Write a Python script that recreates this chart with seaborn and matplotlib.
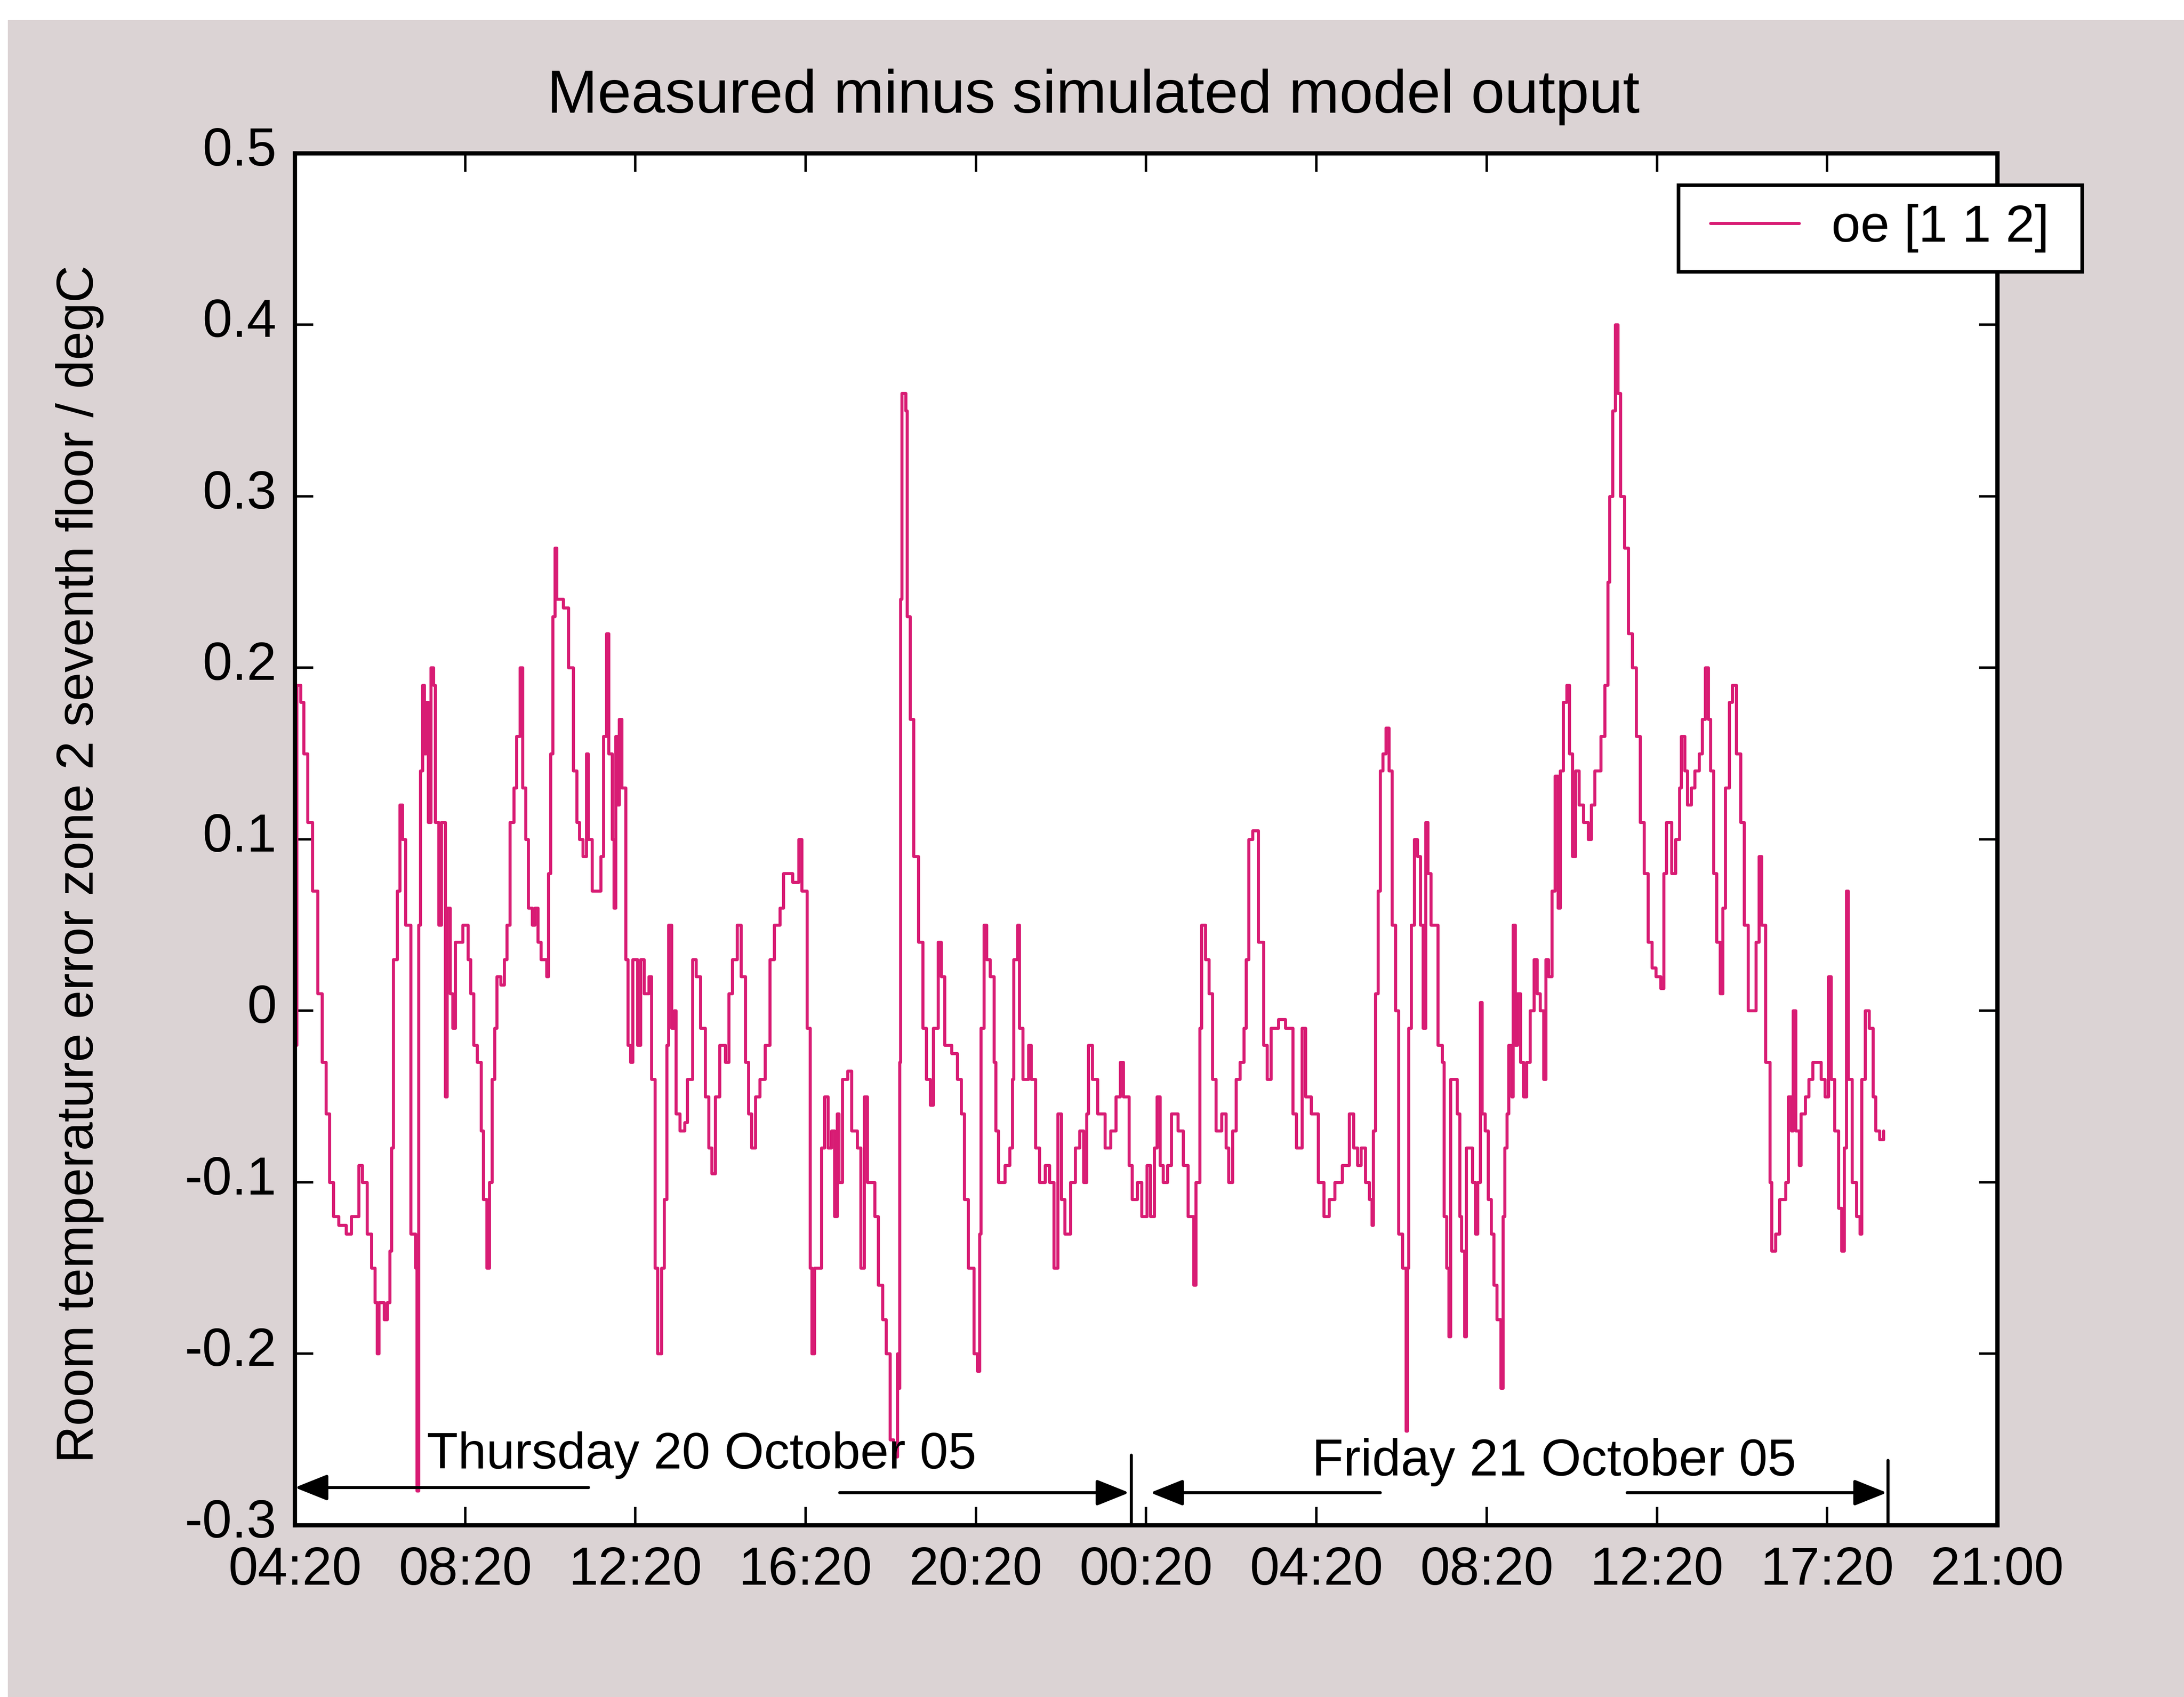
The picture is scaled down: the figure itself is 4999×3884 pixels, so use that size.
import matplotlib
matplotlib.use("Agg")
import matplotlib.pyplot as plt
from matplotlib.patches import Rectangle
from matplotlib.transforms import ScaledTranslation
import seaborn as sns
import pandas as pd

# ---------------- data (hours since Thursday 04:20, error in degC) ----------------
hours = [
    0.00, 0.02, 0.04, 0.13, 0.21, 0.30, 0.41, 0.54, 0.64, 0.73, 0.81, 0.90, 1.03, 1.20, 1.33,
    1.50, 1.58, 1.69, 1.80, 1.88, 1.93, 1.97, 2.10, 2.17, 2.23, 2.27, 2.31, 2.36, 2.40, 2.46,
    2.53, 2.60, 2.72, 2.83, 2.87, 2.91, 2.95, 3.00, 3.04, 3.08, 3.13, 3.19, 3.25, 3.30, 3.38,
    3.44, 3.53, 3.57, 3.64, 3.71, 3.77, 3.94, 4.07, 4.13, 4.20, 4.28, 4.37, 4.43, 4.51, 4.57,
    4.63, 4.69, 4.74, 4.84, 4.92, 4.98, 5.05, 5.14, 5.21, 5.29, 5.35, 5.42, 5.48, 5.57, 5.64,
    5.71, 5.78, 5.91, 5.95, 6.01, 6.06, 6.11, 6.15, 6.30, 6.43, 6.54, 6.62, 6.68, 6.77, 6.85,
    6.89, 6.98, 7.11, 7.19, 7.25, 7.32, 7.37, 7.45, 7.49, 7.54, 7.58, 7.62, 7.68, 7.77, 7.82,
    7.88, 7.94, 8.05, 8.12, 8.20, 8.31, 8.38, 8.46, 8.52, 8.61, 8.67, 8.74, 8.78, 8.85, 8.91,
    8.95, 9.04, 9.16, 9.22, 9.34, 9.42, 9.53, 9.64, 9.72, 9.79, 9.88, 9.98, 10.11, 10.19, 10.28,
    10.39, 10.48, 10.58, 10.66, 10.73, 10.82, 10.92, 11.05, 11.16, 11.26, 11.39, 11.48, 11.69, 11.84, 11.91,
    12.03, 12.10, 12.14, 12.20, 12.29, 12.37, 12.44, 12.52, 12.61, 12.68, 12.74, 12.78, 12.86, 12.99, 13.08,
    13.21, 13.29, 13.38, 13.45, 13.53, 13.62, 13.70, 13.81, 13.89, 13.98, 14.06, 14.15, 14.19, 14.21, 14.23,
    14.26, 14.35, 14.38, 14.45, 14.53, 14.65, 14.75, 14.83, 14.92, 15.00, 15.11, 15.18, 15.26, 15.43, 15.56,
    15.65, 15.73, 15.82, 15.95, 16.03, 16.08, 16.12, 16.19, 16.25, 16.33, 16.42, 16.46, 16.53, 16.68, 16.79,
    16.85, 16.89, 16.98, 17.02, 17.10, 17.23, 17.30, 17.40, 17.49, 17.62, 17.73, 17.83, 17.92, 18.00, 18.09,
    18.22, 18.33, 18.43, 18.53, 18.60, 18.64, 18.73, 18.86, 19.03, 19.16, 19.29, 19.39, 19.46, 19.59, 19.67,
    19.79, 19.89, 20.02, 20.10, 20.19, 20.25, 20.32, 20.40, 20.50, 20.59, 20.74, 20.87, 20.98, 21.11, 21.17,
    21.26, 21.30, 21.39, 21.47, 21.56, 21.64, 21.77, 21.87, 21.94, 22.03, 22.11, 22.20, 22.29, 22.35, 22.41,
    22.50, 22.63, 22.76, 22.84, 22.93, 23.10, 23.27, 23.44, 23.53, 23.66, 23.74, 23.87, 24.04, 24.17, 24.30,
    24.43, 24.60, 24.77, 24.87, 24.96, 25.05, 25.15, 25.24, 25.30, 25.33, 25.38, 25.45, 25.50, 25.56, 25.63,
    25.70, 25.77, 25.86, 25.93, 26.02, 26.10, 26.13, 26.16, 26.23, 26.30, 26.37, 26.44, 26.50, 26.56, 26.62,
    26.69, 26.76, 26.85, 26.95, 26.99, 27.06, 27.11, 27.15, 27.24, 27.30, 27.36, 27.41, 27.48, 27.52, 27.59,
    27.66, 27.73, 27.79, 27.85, 27.89, 27.96, 28.03, 28.10, 28.16, 28.24, 28.33, 28.38, 28.42, 28.47, 28.51,
    28.59, 28.62, 28.67, 28.72, 28.79, 28.86, 28.93, 29.02, 29.11, 29.18, 29.25, 29.33, 29.39, 29.45, 29.53,
    29.60, 29.67, 29.73, 29.80, 29.88, 29.94, 30.01, 30.08, 30.17, 30.27, 30.38, 30.45, 30.54, 30.68, 30.77,
    30.84, 30.89, 30.96, 31.02, 31.08, 31.14, 31.23, 31.33, 31.42, 31.51, 31.60, 31.70, 31.79, 31.88, 31.97,
    32.09, 32.16, 32.22, 32.28, 32.34, 32.43, 32.53, 32.57, 32.65, 32.71, 32.80, 32.89, 32.99, 33.06, 33.13,
    33.20, 33.26, 33.33, 33.40, 33.48, 33.54, 33.60, 33.70, 33.77, 33.86, 33.96, 34.05, 34.14, 34.23, 34.32,
    34.39, 34.46, 34.55, 34.65, 34.69, 34.79, 34.88, 35.02, 35.08, 35.15, 35.20, 35.26, 35.34, 35.38, 35.48,
    35.57, 35.66, 35.75, 35.85, 35.94, 36.03, 36.09, 36.17, 36.26, 36.33, 36.40, 36.45, 36.49, 36.58, 36.68,
    36.77, 36.81, 36.89, 36.98, 37.07, 37.14, 37.23, 37.32,
]
error = [
    0.09, -0.02, 0.19, 0.18, 0.15, 0.11, 0.07, 0.01, -0.03, -0.06, -0.10, -0.12, -0.125, -0.13, -0.12,
    -0.09, -0.10, -0.13, -0.15, -0.17, -0.20, -0.17, -0.18, -0.17, -0.14, -0.08, 0.03, 0.03, 0.07, 0.12,
    0.10, 0.05, -0.13, -0.15, -0.28, 0.05, 0.14, 0.19, 0.15, 0.18, 0.11, 0.20, 0.19, 0.11, 0.05,
    0.11, -0.05, 0.06, 0.01, -0.01, 0.04, 0.05, 0.03, 0.01, -0.02, -0.03, -0.07, -0.11, -0.15, -0.10,
    -0.04, -0.01, 0.02, 0.015, 0.03, 0.05, 0.11, 0.13, 0.16, 0.20, 0.13, 0.10, 0.06, 0.05, 0.06,
    0.04, 0.03, 0.02, 0.08, 0.15, 0.23, 0.27, 0.24, 0.235, 0.20, 0.14, 0.11, 0.10, 0.09, 0.15,
    0.10, 0.07, 0.07, 0.09, 0.16, 0.22, 0.15, 0.10, 0.06, 0.16, 0.12, 0.17, 0.13, 0.03, -0.02,
    -0.03, 0.03, -0.02, 0.03, 0.01, 0.02, -0.04, -0.15, -0.20, -0.15, -0.11, -0.02, 0.05, -0.01, 0.00,
    -0.06, -0.07, -0.065, -0.04, 0.03, 0.02, -0.01, -0.05, -0.08, -0.095, -0.05, -0.02, -0.03, 0.01, 0.03,
    0.05, 0.02, -0.03, -0.06, -0.08, -0.05, -0.04, -0.02, 0.03, 0.05, 0.06, 0.08, 0.075, 0.10, 0.07,
    -0.01, -0.15, -0.20, -0.15, -0.15, -0.08, -0.05, -0.08, -0.07, -0.12, -0.06, -0.10, -0.04, -0.035, -0.07,
    -0.08, -0.15, -0.05, -0.10, -0.10, -0.12, -0.16, -0.18, -0.20, -0.25, -0.26, -0.20, -0.22, -0.03, 0.24,
    0.36, 0.35, 0.23, 0.17, 0.09, 0.04, -0.01, -0.04, -0.055, -0.01, 0.04, 0.02, -0.02, -0.025, -0.04,
    -0.06, -0.11, -0.15, -0.20, -0.21, -0.13, -0.01, 0.05, 0.03, 0.02, -0.03, -0.07, -0.10, -0.09, -0.08,
    -0.04, 0.03, 0.05, -0.01, -0.04, -0.02, -0.04, -0.08, -0.10, -0.09, -0.10, -0.15, -0.06, -0.11, -0.13,
    -0.10, -0.08, -0.07, -0.10, -0.06, -0.02, -0.04, -0.06, -0.08, -0.07, -0.05, -0.03, -0.05, -0.09, -0.11,
    -0.10, -0.12, -0.09, -0.12, -0.08, -0.05, -0.09, -0.10, -0.09, -0.06, -0.07, -0.09, -0.12, -0.16, -0.10,
    -0.01, 0.05, 0.03, 0.01, -0.04, -0.07, -0.06, -0.08, -0.10, -0.07, -0.04, -0.03, -0.01, 0.03, 0.10,
    0.105, 0.04, -0.02, -0.04, -0.01, -0.005, -0.01, -0.06, -0.08, -0.01, -0.05, -0.06, -0.10, -0.12, -0.11,
    -0.10, -0.09, -0.06, -0.08, -0.09, -0.08, -0.10, -0.11, -0.125, -0.07, 0.01, 0.07, 0.14, 0.15, 0.165,
    0.14, 0.05, 0.00, -0.13, -0.15, -0.245, -0.15, -0.01, 0.05, 0.10, 0.09, 0.05, -0.01, 0.11, 0.08,
    0.05, 0.05, -0.02, -0.03, -0.12, -0.15, -0.19, -0.04, -0.04, -0.06, -0.12, -0.14, -0.19, -0.08, -0.08,
    -0.10, -0.13, -0.10, 0.005, -0.06, -0.07, -0.11, -0.13, -0.16, -0.18, -0.22, -0.12, -0.08, -0.06, -0.02,
    -0.05, 0.05, -0.02, 0.01, -0.03, -0.05, -0.03, 0.00, 0.03, 0.01, 0.00, -0.04, 0.03, 0.02, 0.07,
    0.137, 0.06, 0.14, 0.18, 0.19, 0.15, 0.09, 0.14, 0.12, 0.11, 0.10, 0.12, 0.14, 0.16, 0.19,
    0.25, 0.30, 0.35, 0.40, 0.36, 0.30, 0.27, 0.22, 0.20, 0.16, 0.11, 0.08, 0.04, 0.025, 0.02,
    0.013, 0.08, 0.11, 0.11, 0.08, 0.10, 0.13, 0.16, 0.14, 0.12, 0.13, 0.14, 0.15, 0.17, 0.20,
    0.17, 0.14, 0.08, 0.04, 0.01, 0.06, 0.13, 0.18, 0.19, 0.15, 0.11, 0.05, 0.00, 0.00, 0.04,
    0.09, 0.05, -0.03, -0.10, -0.14, -0.13, -0.11, -0.10, -0.05, -0.07, 0.00, -0.07, -0.09, -0.06, -0.05,
    -0.04, -0.03, -0.03, -0.04, -0.05, 0.02, -0.04, -0.07, -0.115, -0.14, -0.08, 0.07, -0.04, -0.10, -0.12,
    -0.13, -0.04, 0.00, -0.01, -0.05, -0.07, -0.075, -0.07,
]

tick_hours = [0, 4, 8, 12, 16, 20, 24, 28, 32, 36, 40]
tick_labels = ["04:20", "08:20", "12:20", "16:20", "20:20", "00:20",
               "04:20", "08:20", "12:20", "17:20", "21:00"]
y_ticks = [-0.3, -0.2, -0.1, 0.0, 0.1, 0.2, 0.3, 0.4, 0.5]
y_tick_labels = ["-0.3", "-0.2", "-0.1", "0", "0.1", "0.2", "0.3", "0.4", "0.5"]

title_text = "Measured minus simulated model output"
ylabel_text = "Room temperature error zone 2 seventh floor / degC"
series_name = "oe [1 1 2]"
day_labels = ["Thursday 20 October 05", "Friday 21 October 05"]

# ---------------- style ----------------
sns.set_style("ticks")
plt.rcParams["font.family"] = ["Liberation Sans", "DejaVu Sans"]
plt.rcParams["text.color"] = "black"
plt.rcParams["axes.labelcolor"] = "black"
plt.rcParams["xtick.color"] = "black"
plt.rcParams["ytick.color"] = "black"

BG = "#dbd3d4"
LINE = "#d81c74"

fig = plt.figure(figsize=(49.99, 38.84), dpi=100, facecolor=BG)
ax = fig.add_axes([0.135, 0.1012, 0.7796, 0.8085])
ax.set_facecolor("white")

df = pd.DataFrame({"hours": hours, "error": error, "series": series_name})
sns.lineplot(data=df, x="hours", y="error", hue="series", palette=[LINE],
             ax=ax, linewidth=5.0, estimator=None, sort=False,
             drawstyle="steps-post")

ax.set_xlim(0, 40)
ax.set_ylim(-0.3, 0.5)
ax.set_xticks(tick_hours)
ax.set_xticklabels(tick_labels)
ax.set_yticks(y_ticks)
ax.set_yticklabels(y_tick_labels)
ax.set_xlabel("")
ax.set_ylabel(ylabel_text, fontsize=85, color="black")
ax.yaxis.set_label_coords(-0.112, 0.482)

for s in ax.spines.values():
    s.set_visible(True)
    s.set_linewidth(7)
    s.set_color("black")

ax.tick_params(axis="both", which="major", direction="in", length=30, width=4,
               top=True, right=True, labelsize=88, colors="black")
ax.tick_params(axis="y", pad=30)
ax.tick_params(axis="x", pad=34)

# y tick labels sit slightly above their ticks in the original
lift = ScaledTranslation(0, 12 / 72, fig.dpi_scale_trans)
for lab in ax.get_yticklabels():
    lab.set_transform(lab.get_transform() + lift)

ax.text(0.469, 1.041, title_text, transform=ax.transAxes, ha="center",
        va="center", fontsize=100, color="black")

# legend: frame drawn as its own box that sticks out past the axes edge
handles, labels = ax.get_legend_handles_labels()
ax.get_legend().remove()
fig.add_artist(Rectangle((0.7686, 0.8399), 0.9534 - 0.7686, 0.8908 - 0.8399,
                         transform=fig.transFigure, facecolor="white",
                         edgecolor="black", linewidth=6, zorder=5))
leg = fig.legend(handles, labels, loc="center left", bbox_to_anchor=(0.7832, 0.8654),
                 fontsize=86, frameon=False, handlelength=1.7, handletextpad=0.62,
                 borderpad=0, borderaxespad=0)
leg.set_zorder(6)
for h in leg.get_lines():
    h.set_linewidth(5.0)

# day annotations
arrow_kw = dict(arrowstyle="-|>,head_length=0.4,head_width=0.16", color="black",
                lw=5, mutation_scale=115, shrinkA=0, shrinkB=0)
ax.text(3.1, -0.267, day_labels[0], fontsize=84, ha="left", va="baseline")
ax.annotate("", xy=(0.0, -0.278), xytext=(6.9, -0.278), arrowprops=arrow_kw)
ax.annotate("", xy=(19.6, -0.281), xytext=(12.8, -0.281), arrowprops=arrow_kw)
ax.plot([19.65, 19.65], [-0.259, -0.3], color="black", lw=5, clip_on=False)

ax.text(23.9, -0.271, day_labels[1], fontsize=85, ha="left", va="baseline")
ax.annotate("", xy=(20.1, -0.281), xytext=(25.5, -0.281), arrowprops=arrow_kw)
ax.annotate("", xy=(37.4, -0.281), xytext=(31.3, -0.281), arrowprops=arrow_kw)
ax.plot([37.42, 37.42], [-0.262, -0.3], color="black", lw=5, clip_on=False)

# white scan margins
fig.add_artist(Rectangle((0, 1 - 46 / 3884), 1, 46 / 3884, transform=fig.transFigure,
                         facecolor="white", edgecolor="none", zorder=-1))
fig.add_artist(Rectangle((0, 0), 18 / 4999, 1, transform=fig.transFigure,
                         facecolor="white", edgecolor="none", zorder=-1))

fig.savefig("out.png", dpi=100, facecolor=BG)
